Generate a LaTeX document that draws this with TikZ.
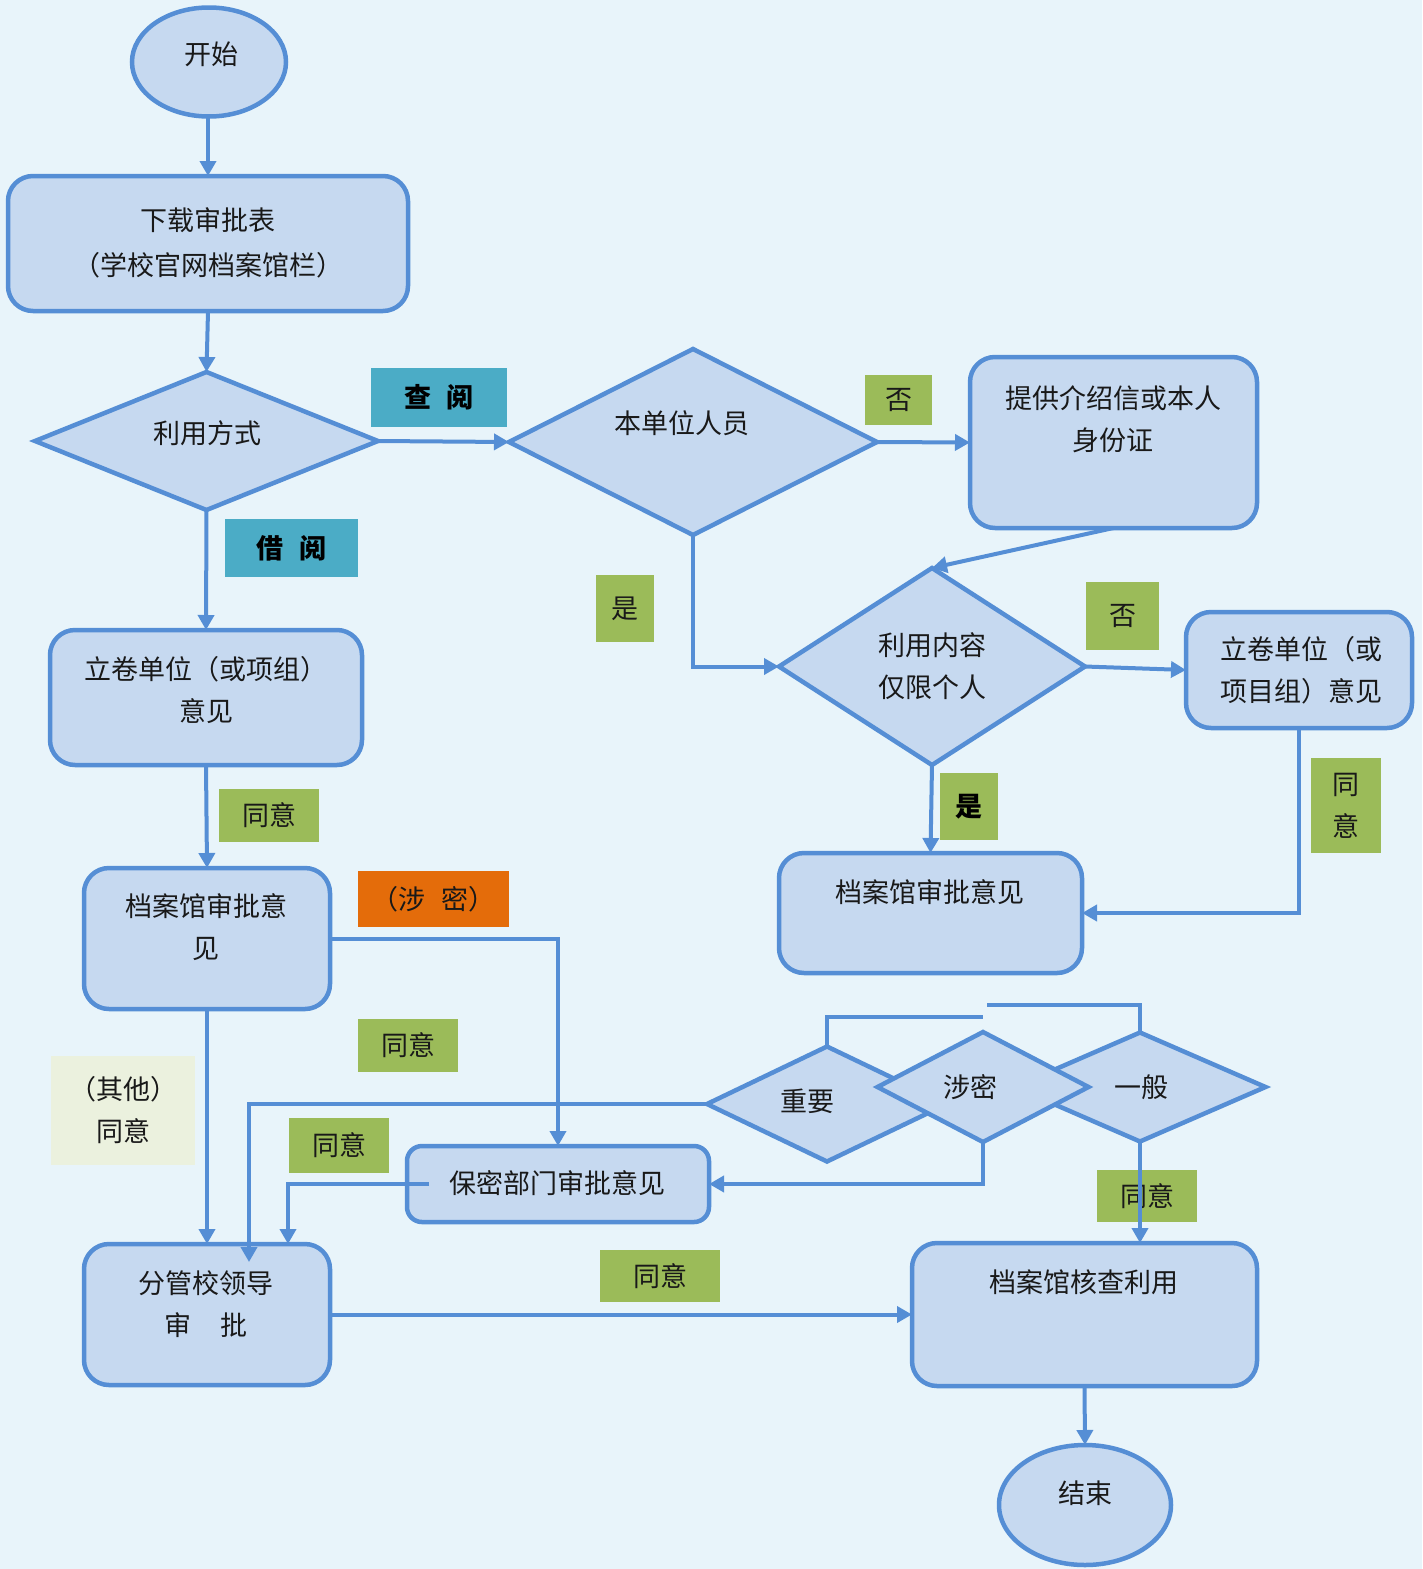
\documentclass[tikz,border=0pt]{standalone}
\usepackage{fontspec}
\setmainfont{Noto Sans CJK SC}
\usetikzlibrary{shapes.geometric,arrows.meta}
\definecolor{bg}{RGB}{232,244,250}
\definecolor{nfill}{RGB}{198,217,240}
\definecolor{nline}{RGB}{85,142,213}
\definecolor{lgreen}{RGB}{155,187,89}
\definecolor{lteal}{RGB}{75,172,198}
\definecolor{lorange}{RGB}{228,108,10}
\definecolor{lpale}{RGB}{235,241,222}
\definecolor{ink}{RGB}{25,25,25}
\begin{document}
\begin{tikzpicture}[x=1pt,y=-1pt,
  shp/.style={draw=nline, fill=nfill, line width=4.5pt, inner sep=0pt, outer sep=0pt},
  term/.style={shp, ellipse},
  box/.style={shp, rectangle, rounded corners=25pt},
  dia/.style={shp, diamond},
  txt/.style={inner sep=0pt, outer sep=0pt, text=ink, align=center, font=\fontsize{27}{42}\selectfont},
  lab/.style={inner sep=0pt, outer sep=0pt, text=ink, align=center, font=\fontsize{27}{42}\selectfont},
  glab/.style={lab, fill=lgreen},
  tlab/.style={lab, fill=lteal, font=\fontsize{27}{42}\selectfont\bfseries, text=black},
  arr/.style={draw=nline, line width=4pt, -{Triangle[length=15pt,width=16pt]}},
  ln/.style={draw=nline, line width=4pt}
]
\fill[bg] (0,0) rectangle (1422,1569);
\useasboundingbox (0,0) rectangle (1422,1569);

% ---------- shapes ----------
\node[term, minimum width=154pt, minimum height=109pt] (start) at (209,62) {};
\node[box, minimum width=400pt, minimum height=135pt] (b1) at (208,243.5) {};
\node[dia, minimum width=343pt, minimum height=138pt] (d1) at (206.5,441) {};
\node[dia, minimum width=368pt, minimum height=186pt] (d2) at (693,442) {};
\node[box, minimum width=287pt, minimum height=171pt] (b3) at (1113.5,442.5) {};
\node[dia, minimum width=306pt, minimum height=197pt] (d3) at (932,666.5) {};
\node[box, minimum width=226pt, minimum height=116pt] (b4) at (1299,670) {};
\node[box, minimum width=303pt, minimum height=120pt] (b5) at (930.5,913) {};
\node[box, minimum width=312pt, minimum height=135pt] (b6) at (206,697.5) {};
\node[box, minimum width=246pt, minimum height=141pt] (b7) at (207,938.5) {};
\node[box, rounded corners=15pt, minimum width=302pt, minimum height=76pt] (b8) at (558,1184) {};
\node[box, minimum width=246pt, minimum height=141pt] (b9) at (207,1314.5) {};
\node[box, minimum width=345pt, minimum height=143pt] (b10) at (1084.5,1314.5) {};
\node[term, minimum width=172pt, minimum height=120pt] (end) at (1085,1505) {};
\node[dia, minimum width=240pt, minimum height=115pt] (dz) at (827,1104) {};
\node[dia, minimum width=251pt, minimum height=109pt] (dg) at (1140,1087) {};
\node[dia, minimum width=211pt, minimum height=110pt] (ds) at (983,1087) {};

% ---------- shape texts ----------
\node[txt] (tstart) at (211,54) {开始};
\node[txt, font=\fontsize{27}{45}\selectfont] (tb1) at (208,242.5) {下载审批表\\（学校官网档案馆栏）};
\node[txt] (td1) at (207,433) {利用方式};
\node[txt] (td2) at (682,423) {本单位人员};
\node[txt] (tb3) at (1113,419) {提供介绍信或本人\\身份证};
\node[txt] (td3) at (932,666) {利用内容\\仅限个人};
\node[txt] (tb4) at (1301,670) {立卷单位（或\\项目组）意见};
\node[txt] (tb5) at (930,892) {档案馆审批意见};
\node[txt] (tb6) at (206,690) {立卷单位（或项组）\\意见};
\node[txt] (tb7) at (206,927.5) {档案馆审批意\\见};
\node[txt] (tb8) at (557,1183) {保密部门审批意见};
\node[txt] (tb9) at (206,1304) {分管校领导\\审\hspace{29pt}批};
\node[txt] (tb10) at (1084,1282) {档案馆核查利用};
\node[txt] (tend) at (1085,1493) {结束};
\node[txt] (tdz) at (807,1101) {重要};
\node[txt] (tds) at (970,1087) {涉密};
\node[txt] (tdg) at (1141,1087) {一般};

% ---------- labels ----------
\node[tlab, minimum width=136pt, minimum height=59pt] (lchayue) at (439,397.5) {查\hspace{16pt}阅};
\node[tlab, minimum width=133pt, minimum height=58pt] (ljieyue) at (291.5,548) {借\hspace{16pt}阅};
\node[glab, minimum width=67pt, minimum height=50pt] (lfou1) at (898.5,400) {否};
\node[glab, minimum width=58pt, minimum height=67pt] (lshi1) at (625,608.5) {是};
\node[glab, minimum width=73pt, minimum height=68pt] (lfou2) at (1122.5,616) {否};
\node[glab, minimum width=58pt, minimum height=67pt, font=\fontsize{27}{42}\selectfont\bfseries, text=black] (lshi2) at (969,806.5) {是};
\node[glab, minimum width=70pt, minimum height=95pt] (lty1) at (1346,805.5) {同\\意};
\node[glab, minimum width=100pt, minimum height=53pt] (lty2) at (269,815) {同意};
\node[lab, fill=lorange, minimum width=151pt, minimum height=56pt] (lsm) at (433.5,899) {（涉\hspace{16pt}密）};
\node[glab, minimum width=100pt, minimum height=53pt] (lty3) at (408,1045) {同意};
\node[lab, fill=lpale, minimum width=144pt, minimum height=109pt] (lqt) at (123,1110) {（其他）\\同意};
\node[glab, minimum width=100pt, minimum height=55pt] (lty4) at (339,1145) {同意};
\node[glab, minimum width=100pt, minimum height=52pt] (lty5) at (1147,1196) {同意};
\node[glab, minimum width=120pt, minimum height=52pt] (lty6) at (660,1276) {同意};

% ---------- free ends ----------
\coordinate (endA) at (983,1017);
\coordinate (endB) at (987,1005);
\coordinate (tipA) at (249,1262);

% ---------- connectors ----------
\draw[arr] (start.south -| b1.north) -- (b1.north);
\draw[arr] (b1.south) -- (d1.north);
\draw[arr] (d1.east) -- (d2.west);
\draw[arr] (d2.east) -- (b3.west);
\draw[arr] (b3.south) -- (d3.north);
\draw[arr] (d2.south) |- (d3.west);
\draw[arr] (d3.east) -- (b4.west);
\draw[arr] (b4.south) |- (b5.east);
\draw[arr] (d3.south) -- (b5.north);
\draw[arr] (d1.south) -- (b6.north);
\draw[arr] (b6.south) -- (b7.north);
\draw[arr] (b7.east) -| (b8.north);
\draw[arr] (b7.south) -- (b9.north);
\draw[arr] ([xshift=22pt]b8.west) -| ([xshift=81pt]b9.north);
\draw[arr] (dz.west) -| (tipA);
\draw[ln] (dz.north) |- (endA);
\draw[ln] (dg.north) |- (endB);
\draw[arr] (ds.south) |- (b8.east);
\draw[arr] (dg.south) -- (dg.south |- b10.north);
\draw[arr] (b9.east) -- (b10.west);
\draw[arr] (b10.south) -- (end.north);
\end{tikzpicture}
\end{document}
